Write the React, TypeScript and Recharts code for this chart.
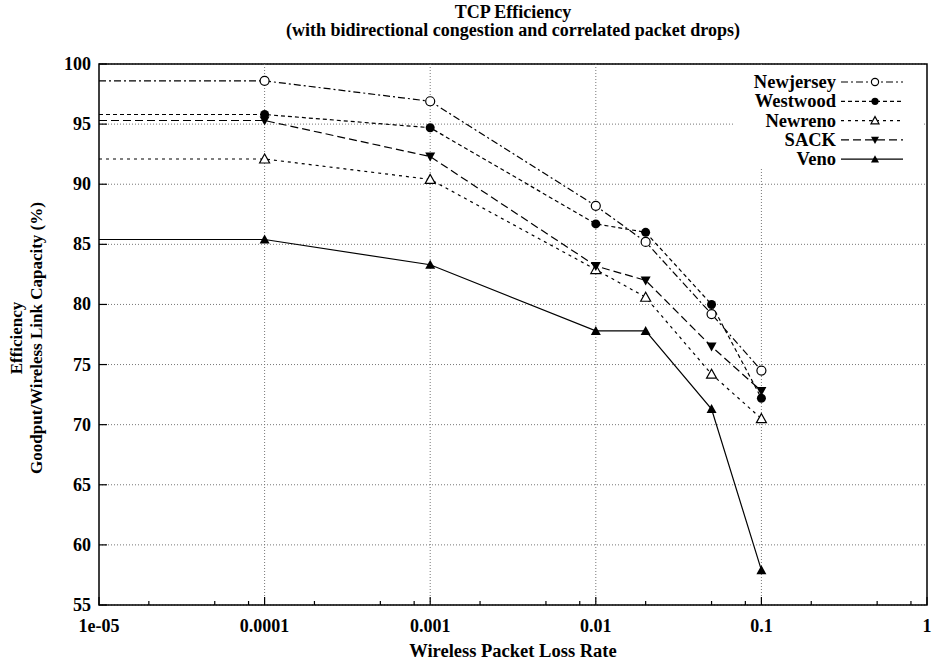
import React from 'react';
import {
    LineChart, Line, XAxis, YAxis, CartesianGrid,
    ReferenceLine, ReferenceArea, Legend
} from 'recharts';

// loss rate on the x axis (log scale); first point sits on the left border
const lossRates = [0.00001, 0.0001, 0.001, 0.01, 0.02, 0.05, 0.1];
const newjersey = [98.6, 98.6, 96.9, 88.2, 85.2, 79.2, 74.5];
const westwood = [95.8, 95.8, 94.7, 86.7, 86.0, 80.0, 72.2];
const newreno = [92.1, 92.1, 90.4, 82.9, 80.6, 74.2, 70.5];
const sack = [95.3, 95.3, 92.3, 83.2, 82.0, 76.5, 72.8];
const veno = [85.4, 85.4, 83.3, 77.8, 77.8, 71.3, 57.9];

const xMajorTicks = [0.00001, 0.0001, 0.001, 0.01, 0.1, 1];
const xTickLabels = ['1e-05', '0.0001', '0.001', '0.01', '0.1', '1'];
const xMinorTicks = [
    0.00002, 0.00005, 0.00008, 0.0002, 0.0005, 0.0008, 0.002, 0.005, 0.008,
    0.02, 0.05, 0.08, 0.2, 0.5, 0.8
];
const yTicks = [55, 60, 65, 70, 75, 80, 85, 90, 95, 100];

const allXTicks = [...xMajorTicks, ...xMinorTicks].sort((a, b) => a - b);

const data = lossRates.map((x, i) => ({
    x,
    Newjersey: newjersey[i],
    Westwood: westwood[i],
    Newreno: newreno[i],
    SACK: sack[i],
    Veno: veno[i],
}));

type Shape = 'circleOpen' | 'circle' | 'triOpen' | 'triDown' | 'tri';

const series: { key: string; dash?: string; shape: Shape }[] = [
    { key: 'Newjersey', dash: '7 3 2 3', shape: 'circleOpen' },
    { key: 'Westwood', dash: '4 3', shape: 'circle' },
    { key: 'Newreno', dash: '3 4', shape: 'triOpen' },
    { key: 'SACK', dash: '8 4', shape: 'triDown' },
    { key: 'Veno', shape: 'tri' },
];

const FONT = '"Liberation Serif", "Times New Roman", serif';

const Marker = ({ cx, cy, shape, s = 1 }: { cx: number; cy: number; shape: Shape; s?: number }) => {
    switch (shape) {
        case 'circleOpen':
            return <circle cx={cx} cy={cy} r={4.5 * s} fill="#fff" stroke="#000" strokeWidth={1.2} />;
        case 'circle':
            return <circle cx={cx} cy={cy} r={4.5 * s} fill="#000" />;
        case 'triOpen':
            return <polygon points={`${cx},${cy - 5 * s} ${cx - 5 * s},${cy + 4 * s} ${cx + 5 * s},${cy + 4 * s}`}
                            fill="#fff" stroke="#000" strokeWidth={1.2} />;
        case 'triDown':
            return <polygon points={`${cx},${cy + 5 * s} ${cx - 5 * s},${cy - 4 * s} ${cx + 5 * s},${cy - 4 * s}`} fill="#000" />;
        default:
            return <polygon points={`${cx},${cy - 5 * s} ${cx - 5 * s},${cy + 4 * s} ${cx + 5 * s},${cy + 4 * s}`} fill="#000" />;
    }
};

const makeDot = (shape: Shape) => (props: any) => {
    const { cx, cy, index } = props;
    if (index === 0 || cx == null || cy == null) return <g key={`d-${index}`} />;
    return <g key={`d-${index}`}><Marker cx={cx} cy={cy} shape={shape} /></g>;
};

const isMajor = (v: number) => xMajorTicks.findIndex(t => Math.abs(t - v) / t < 1e-6);

const BottomTick = (props: any) => {
    const { x, y, payload } = props;
    const i = isMajor(payload.value);
    const len = i >= 0 ? 8 : 4;
    return (
        <g>
            <line x1={x} x2={x} y1={y} y2={y - len} stroke="#000" strokeWidth={1.2} />
            {i >= 0 && (
                <text x={x} y={y + 27} textAnchor="middle" fontFamily={FONT}
                      fontWeight="bold" fontSize={18} fill="#000">
                    {xTickLabels[i]}
                </text>
            )}
        </g>
    );
};

const TopTick = (props: any) => {
    const { x, y, payload } = props;
    const len = isMajor(payload.value) >= 0 ? 8 : 4;
    return <line x1={x} x2={x} y1={y} y2={y + len} stroke="#000" strokeWidth={1.2} />;
};

const LeftTick = (props: any) => {
    const { x, y, payload } = props;
    return (
        <g>
            <line x1={x} x2={x + 8} y1={y} y2={y} stroke="#000" strokeWidth={1.2} />
            <text x={x - 8} y={y + 6} textAnchor="end" fontFamily={FONT}
                  fontWeight="bold" fontSize={18} fill="#000">
                {payload.value}
            </text>
        </g>
    );
};

const RightTick = (props: any) => {
    const { x, y } = props;
    return <line x1={x} x2={x - 8} y1={y} y2={y} stroke="#000" strokeWidth={1.2} />;
};

const LegendBox = () => (
    <svg width={190} height={102} style={{ display: 'block' }}>
        {series.map((s, i) => {
            const cy = 16 + i * 19.3;
            return (
                <g key={s.key}>
                    <text x={103} y={cy + 6} textAnchor="end" fontFamily={FONT}
                          fontWeight="bold" fontSize={18.5} fill="#000">{s.key}</text>
                    <line x1={108} x2={170} y1={cy} y2={cy} stroke="#000"
                          strokeWidth={1.2} strokeDasharray={s.dash} />
                    <Marker cx={142} cy={cy} shape={s.shape} s={0.8} />
                </g>
            );
        })}
    </svg>
);

const App = () => {
    return (
        <div style={{ position: 'absolute', left: 0, top: 0, width: 934, height: 663, background: '#fff' }}>
            <div style={{
                position: 'absolute', left: 163, top: 3, width: 700, textAlign: 'center',
                fontFamily: FONT, fontWeight: 'bold', fontSize: 18, lineHeight: '18px', zIndex: 2
            }}>
                TCP Efficiency<br />(with bidirectional congestion and correlated packet drops)
            </div>
            <div style={{
                position: 'absolute', left: -173, top: 318, width: 400, height: 40,
                textAlign: 'center', fontFamily: FONT, fontWeight: 'bold', fontSize: 17,
                lineHeight: '20px', transform: 'rotate(-90deg)', zIndex: 2
            }}>
                Efficiency<br />Goodput/Wireless Link Capacity (%)
            </div>
            <LineChart width={934} height={663} data={data}
                       margin={{ top: 64, right: 7, bottom: 0, left: 0 }}>
                <CartesianGrid vertical={false} stroke="#777" strokeDasharray="1 2" />
                {xMajorTicks.slice(1, -1).map(t => (
                    <ReferenceLine key={t} x={t} stroke="#777" strokeDasharray="1 2" />
                ))}
                <XAxis dataKey="x" type="number" scale="log" domain={[0.00001, 1]}
                       allowDataOverflow ticks={allXTicks} interval={0}
                       tick={BottomTick} tickLine={false} axisLine={false}
                       tickSize={0} tickMargin={0} height={58}
                       label={{
                           value: 'Wireless Packet Loss Rate', position: 'insideBottom', offset: 6,
                           fill: '#000', fontSize: 18.5, fontWeight: 'bold', fontFamily: FONT
                       }} />
                <XAxis xAxisId="top" orientation="top" dataKey="x" type="number" scale="log"
                       domain={[0.00001, 1]} allowDataOverflow ticks={allXTicks} interval={0}
                       tick={TopTick} tickLine={false} axisLine={false}
                       tickSize={0} tickMargin={0} height={0} />
                <YAxis type="number" domain={[55, 100]} ticks={yTicks} interval={0}
                       allowDataOverflow tick={LeftTick} tickLine={false} axisLine={false}
                       tickSize={0} tickMargin={0} width={99} />
                <YAxis yAxisId="right" orientation="right" type="number" domain={[55, 100]}
                       ticks={yTicks} interval={0} allowDataOverflow tick={RightTick}
                       tickLine={false} axisLine={false} tickSize={0} tickMargin={0} width={0} />
                <ReferenceArea x1={0.00001} x2={1} y1={55} y2={100} fill="none"
                               stroke="#000" strokeWidth={1.5} />
                {series.map(s => (
                    <Line key={s.key} type="linear" dataKey={s.key} stroke="#000"
                          strokeWidth={1.2} strokeDasharray={s.dash}
                          dot={makeDot(s.shape)} activeDot={false}
                          isAnimationActive={false} />
                ))}
                <Legend layout="vertical" align="center" verticalAlign="middle"
                        content={LegendBox}
                        wrapperStyle={{
                            position: 'absolute', left: 733, top: 66, width: 190,
                            height: 101, background: '#fff'
                        }} />
            </LineChart>
        </div>
    );
};

export default App;
